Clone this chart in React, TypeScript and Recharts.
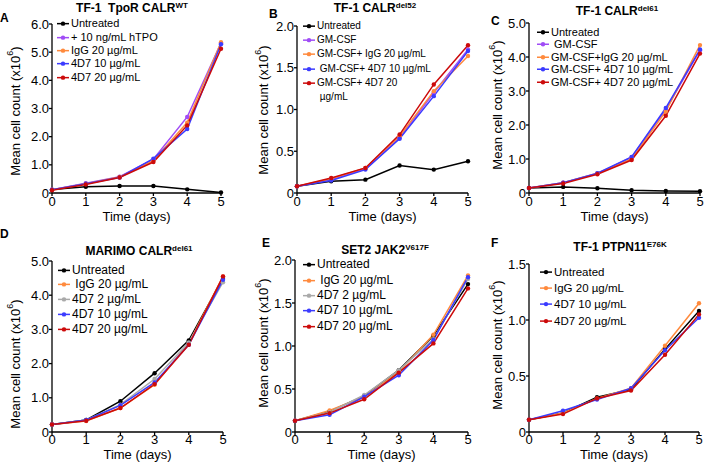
import React from 'react';
import { LineChart, Line, XAxis, YAxis, Legend } from 'recharts';

const FONT = '"Liberation Sans", Arial, sans-serif';

const BLACK = '#000000';
const PURPLE = '#a04cf6';
const ORANGE = '#ff8a3d';
const BLUE = '#3b3bff';
const RED = '#cc0a0a';
const GRAY = '#a9a9a9';

const days = [0, 1, 2, 3, 4, 5];

// A: TF-1 TpoR CALR WT
const aUntreated = [0.12, 0.22, 0.25, 0.25, 0.13, 0.02];
const aHtpo = [0.12, 0.35, 0.58, 1.2, 2.7, 5.32];
const aIgg20 = [0.12, 0.33, 0.57, 1.15, 2.5, 5.35];
const a4d7_10 = [0.12, 0.33, 0.55, 1.22, 2.27, 5.28];
const a4d7_20 = [0.1, 0.3, 0.55, 1.1, 2.4, 5.12];
const aTicks = [0, 1, 2, 3, 4, 5, 6];

// B: TF-1 CALR del52
const bUntreated = [0.08, 0.14, 0.16, 0.33, 0.28, 0.38];
const bGmcsf = [0.08, 0.16, 0.29, 0.66, 1.2, 1.72];
const bIgg20 = [0.08, 0.17, 0.3, 0.68, 1.22, 1.64];
const b4d7_10 = [0.08, 0.15, 0.28, 0.65, 1.16, 1.7];
const b4d7_20 = [0.08, 0.18, 0.3, 0.7, 1.3, 1.77];
const bTicks = [0, 0.5, 1, 1.5, 2];

// C: TF-1 CALR del61
const cUntreated = [0.15, 0.18, 0.14, 0.08, 0.06, 0.05];
const cGmcsf = [0.15, 0.3, 0.57, 1.05, 2.45, 4.2];
const cIgg20 = [0.15, 0.3, 0.58, 1.0, 2.4, 4.35];
const c4d7_10 = [0.15, 0.3, 0.58, 1.06, 2.5, 4.22];
const c4d7_20 = [0.15, 0.28, 0.55, 0.97, 2.27, 4.1];
const cTicks = [0, 1, 2, 3, 4, 5];

// D: MARIMO CALR del61
const dUntreated = [0.22, 0.35, 0.9, 1.72, 2.68, 4.5];
const dIgg20 = [0.22, 0.32, 0.7, 1.38, 2.6, 4.55];
const d4d7_2 = [0.22, 0.35, 0.8, 1.55, 2.62, 4.38];
const d4d7_10 = [0.22, 0.35, 0.78, 1.45, 2.55, 4.45];
const d4d7_20 = [0.22, 0.33, 0.7, 1.4, 2.55, 4.55];
const dTicks = [0, 1, 2, 3, 4, 5];

// E: SET2 JAK2 V617F
const eUntreated = [0.13, 0.24, 0.42, 0.72, 1.12, 1.72];
const eIgg20 = [0.13, 0.25, 0.41, 0.7, 1.13, 1.82];
const e4d7_2 = [0.13, 0.23, 0.43, 0.72, 1.08, 1.78];
const e4d7_10 = [0.13, 0.2, 0.41, 0.66, 1.07, 1.8];
const e4d7_20 = [0.13, 0.22, 0.38, 0.69, 1.03, 1.67];
const eTicks = [0, 0.5, 1, 1.5, 2];

// F: TF-1 PTPN11 E76K
const fUntreated = [0.11, 0.17, 0.31, 0.38, 0.74, 1.08];
const fIgg20 = [0.11, 0.17, 0.3, 0.39, 0.77, 1.15];
const f4d7_10 = [0.11, 0.19, 0.29, 0.39, 0.73, 1.02];
const f4d7_20 = [0.11, 0.16, 0.3, 0.37, 0.69, 1.05];
const fTicks = [0, 0.5, 1, 1.5];

type Series = { name: string; color: string; values: number[] };

type Panel = {
  letter: string;
  title: string;
  sup: string;
  left: number;
  plotLeft: number;
  plotRight: number;
  plotTop: number;
  plotBottom: number;
  yTicks: number[];
  series: Series[];
  legend: { x: number; y: number; row: number; size: number };
  yLabel: { x: number; y: number };
  titlePos: { x: number; y: number };
  letterPos: { x: number; y: number };
  xTickGap: number;
  xLabelDy: number;
};

const panels: Panel[] = [
  {
    letter: 'A', title: 'TF-1  TpoR CALR', sup: 'WT',
    left: 0, plotLeft: 52, plotRight: 221, plotTop: 24, plotBottom: 193,
    yTicks: aTicks,
    series: [
      { name: 'Untreated', color: BLACK, values: aUntreated },
      { name: '+ 10 ng/mL hTPO', color: PURPLE, values: aHtpo },
      { name: 'IgG 20 µg/mL', color: ORANGE, values: aIgg20 },
      { name: '4D7 10 µg/mL', color: BLUE, values: a4d7_10 },
      { name: '4D7 20 µg/mL', color: RED, values: a4d7_20 },
    ],
    legend: { x: 57, y: 24, row: 13.3, size: 11 },
    yLabel: { x: 15, y: 111 },
    titlePos: { x: 132, y: 12 },
    letterPos: { x: 0, y: 22 },
    xTickGap: 1, xLabelDy: 28,
  },
  {
    letter: 'B', title: 'TF-1 CALR', sup: 'del52',
    left: 248, plotLeft: 297, plotRight: 468, plotTop: 26, plotBottom: 193,
    yTicks: bTicks,
    series: [
      { name: 'Untreated', color: BLACK, values: bUntreated },
      { name: 'GM-CSF', color: PURPLE, values: bGmcsf },
      { name: 'GM-CSF+ IgG 20 µg/mL', color: ORANGE, values: bIgg20 },
      { name: ' GM-CSF+ 4D7 10 µg/mL', color: BLUE, values: b4d7_10 },
      { name: 'GM-CSF+ 4D7 20\n µg/mL', color: RED, values: b4d7_20 },
    ],
    legend: { x: 303, y: 26, row: 14.3, size: 10 },
    yLabel: { x: 263, y: 110 },
    titlePos: { x: 375, y: 12 },
    letterPos: { x: 269, y: 18 },
    xTickGap: 1, xLabelDy: 28,
  },
  {
    letter: 'C', title: 'TF-1 CALR', sup: 'del61',
    left: 482, plotLeft: 529, plotRight: 700, plotTop: 23, plotBottom: 193,
    yTicks: cTicks,
    series: [
      { name: 'Untreated', color: BLACK, values: cUntreated },
      { name: ' GM-CSF', color: PURPLE, values: cGmcsf },
      { name: 'GM-CSF+IgG 20 µg/mL', color: ORANGE, values: cIgg20 },
      { name: 'GM-CSF+ 4D7 10 µg/mL', color: BLUE, values: c4d7_10 },
      { name: 'GM-CSF+ 4D7 20 µg/mL', color: RED, values: c4d7_20 },
    ],
    legend: { x: 537, y: 32, row: 12.5, size: 11 },
    yLabel: { x: 497, y: 105 },
    titlePos: { x: 617, y: 15 },
    letterPos: { x: 491, y: 25 },
    xTickGap: 1, xLabelDy: 28,
  },
  {
    letter: 'D', title: 'MARIMO CALR', sup: 'del61',
    left: 0, plotLeft: 52, plotRight: 223, plotTop: 261, plotBottom: 432,
    yTicks: dTicks,
    series: [
      { name: 'Untreated', color: BLACK, values: dUntreated },
      { name: ' IgG 20 µg/mL', color: ORANGE, values: dIgg20 },
      { name: '4D7 2 µg/mL', color: GRAY, values: d4d7_2 },
      { name: '4D7 10 µg/mL', color: BLUE, values: d4d7_10 },
      { name: '4D7 20 µg/mL', color: RED, values: d4d7_20 },
    ],
    legend: { x: 58, y: 270, row: 14.8, size: 12 },
    yLabel: { x: 15, y: 364 },
    titlePos: { x: 139, y: 255 },
    letterPos: { x: 0, y: 238 },
    xTickGap: 0, xLabelDy: 27,
  },
  {
    letter: 'E', title: 'SET2 JAK2', sup: 'V617F',
    left: 248, plotLeft: 295, plotRight: 468, plotTop: 260, plotBottom: 432,
    yTicks: eTicks,
    series: [
      { name: 'Untreated', color: BLACK, values: eUntreated },
      { name: ' IgG 20 µg/mL', color: ORANGE, values: eIgg20 },
      { name: '4D7 2 µg/mL', color: GRAY, values: e4d7_2 },
      { name: '4D7 10 µg/mL', color: BLUE, values: e4d7_10 },
      { name: '4D7 20 µg/mL', color: RED, values: e4d7_20 },
    ],
    legend: { x: 303, y: 265, row: 15.3, size: 12 },
    yLabel: { x: 263, y: 343 },
    titlePos: { x: 385, y: 254 },
    letterPos: { x: 262, y: 247 },
    xTickGap: 0, xLabelDy: 27,
  },
  {
    letter: 'F', title: 'TF-1 PTPN11', sup: 'E76K',
    left: 482, plotLeft: 529, plotRight: 699, plotTop: 264, plotBottom: 432,
    yTicks: fTicks,
    series: [
      { name: 'Untreated', color: BLACK, values: fUntreated },
      { name: 'IgG 20 µg/mL', color: ORANGE, values: fIgg20 },
      { name: '4D7 10 µg/mL', color: BLUE, values: f4d7_10 },
      { name: '4D7 20 µg/mL', color: RED, values: f4d7_20 },
    ],
    legend: { x: 540, y: 272, row: 16.2, size: 11.5 },
    yLabel: { x: 497, y: 345 },
    titlePos: { x: 620, y: 251 },
    letterPos: { x: 491, y: 247 },
    xTickGap: 0, xLabelDy: 27,
  },
];

const MARGIN_TOP = 10;
const MARGIN_RIGHT = 8;
const X_AXIS_H = 32;

const fmtY = (v: number) => (v === 0 ? '0' : v.toFixed(1));

const LegendBox = ({ series, row, size }: { series: Series[]; row: number; size: number }) => (
  <div style={{ fontFamily: FONT, fontSize: size, color: '#000' }}>
    {series.map((s) => (
      <div key={s.name} style={{ display: 'flex', alignItems: 'flex-start', lineHeight: `${row}px` }}>
        <svg width={12} height={row} style={{ flex: 'none', marginRight: 2 }}>
          <line x1={0} x2={12} y1={row / 2} y2={row / 2} stroke={s.color} strokeWidth={1.5} />
          <circle cx={6} cy={row / 2} r={2.2} fill={s.color} />
        </svg>
        <span style={{ whiteSpace: 'pre' }}>{s.name}</span>
      </div>
    ))}
  </div>
);

const PanelChart = ({ p }: { p: Panel }) => {
  const top = p.plotTop - MARGIN_TOP;
  const width = p.plotRight - p.left + MARGIN_RIGHT;
  const height = p.plotBottom - p.plotTop + MARGIN_TOP + X_AXIS_H;
  const yMax = p.yTicks[p.yTicks.length - 1];
  const data = days.map((d, i) => {
    const row: Record<string, number> = { day: d };
    p.series.forEach((s, k) => {
      row[`s${k}`] = s.values[i];
    });
    return row;
  });
  const lx = p.yLabel.x - p.left;
  const ly = p.yLabel.y - top;

  return (
    <div style={{ position: 'absolute', left: p.left, top }}>
      <LineChart width={width} height={height} data={data} margin={{ top: MARGIN_TOP, right: MARGIN_RIGHT, left: 0, bottom: 0 }}>
        <XAxis
          dataKey="day"
          type="number"
          domain={[0, 5]}
          ticks={days}
          interval={0}
          height={X_AXIS_H}
          tickSize={3}
          tickMargin={p.xTickGap}
          stroke="#000"
          strokeWidth={1.3}
          tick={{ fill: '#000', fontSize: 13, fontFamily: FONT }}
          label={{
            content: () => (
              <text
                x={(p.plotLeft + p.plotRight) / 2 - p.left}
                y={p.plotBottom + p.xLabelDy - top}
                textAnchor="middle"
                fontSize={13}
                fontFamily={FONT}
                fill="#000"
              >
                Time (days)
              </text>
            ),
          }}
        />
        <YAxis
          type="number"
          domain={[0, yMax]}
          ticks={p.yTicks}
          interval={0}
          width={p.plotLeft - p.left}
          tickSize={3}
          tickMargin={0}
          tickFormatter={fmtY}
          stroke="#000"
          strokeWidth={1.3}
          tick={{ fill: '#000', fontSize: 13, fontFamily: FONT }}
          label={{
            content: () => (
              <text
                x={lx}
                y={ly}
                transform={`rotate(-90 ${lx} ${ly})`}
                textAnchor="middle"
                dominantBaseline="central"
                fontSize={13}
                fontFamily={FONT}
                fill="#000"
              >
                Mean cell count (x10
                <tspan dy={-5} fontSize={9}>6</tspan>
                <tspan dy={5}>)</tspan>
              </text>
            ),
          }}
        />
        <Legend
          layout="vertical"
          align="center"
          verticalAlign="middle"
          wrapperStyle={{ left: p.legend.x - p.left, top: p.legend.y - p.legend.row / 2 - top, width: 'auto' }}
          content={() => <LegendBox series={p.series} row={p.legend.row} size={p.legend.size} />}
        />
        {p.series.map((s, k) => (
          <Line
            key={s.name}
            dataKey={`s${k}`}
            name={s.name}
            stroke={s.color}
            strokeWidth={1.5}
            dot={{ r: 2.2, fill: s.color, stroke: s.color, strokeWidth: 0 }}
            activeDot={false}
            isAnimationActive={false}
          />
        ))}
      </LineChart>
    </div>
  );
};

export default function App() {
  return (
    <div style={{ position: 'absolute', left: 0, top: 0, width: 709, height: 465, background: '#fff', fontFamily: FONT }}>
      {panels.map((p) => (
        <PanelChart key={p.letter} p={p} />
      ))}
      <svg width={709} height={465} style={{ position: 'absolute', left: 0, top: 0, pointerEvents: 'none' }}>
        {panels.map((p) => (
          <g key={p.letter} fontFamily={FONT} fill="#000">
            <text x={p.letterPos.x} y={p.letterPos.y} fontSize={12} fontWeight="bold">
              {p.letter}
            </text>
            <text x={p.titlePos.x} y={p.titlePos.y} textAnchor="middle" fontSize={12} fontWeight="bold" style={{ whiteSpace: 'pre' }}>
              {p.title}
              <tspan dy={-4} fontSize={8}>{p.sup}</tspan>
            </text>
          </g>
        ))}
      </svg>
    </div>
  );
}
